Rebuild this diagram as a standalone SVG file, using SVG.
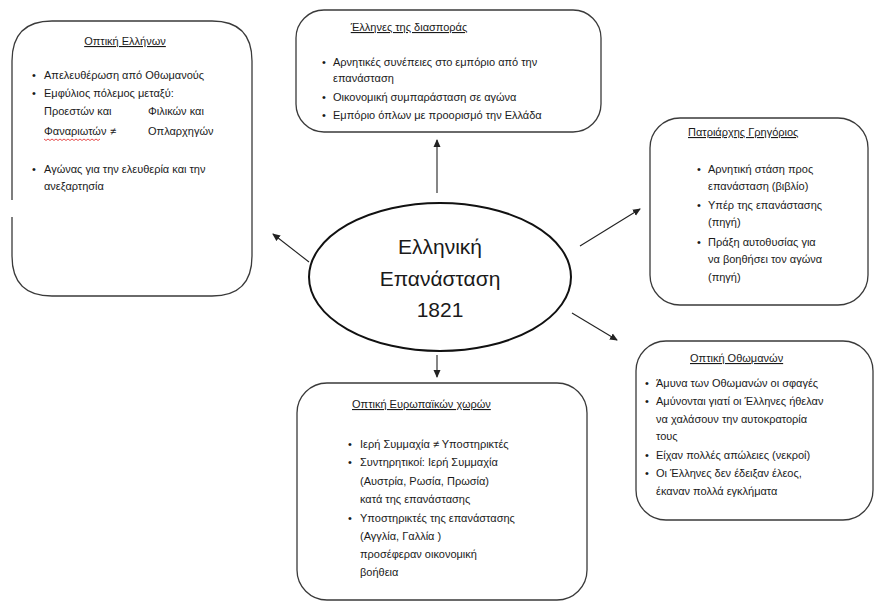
<svg xmlns="http://www.w3.org/2000/svg" width="877" height="608" viewBox="0 0 877 608">
<style>
.box{fill:#fff;stroke:#3a3a3a;stroke-width:1.3}
.t{font-family:"Liberation Sans","Noto Sans",Arial,sans-serif;font-size:11px;fill:#1a1a1a}
.u{text-decoration:underline}
.big{font-family:"Liberation Sans","Noto Sans",Arial,sans-serif;font-size:21px;fill:#1a1a1a;text-anchor:middle}
.c{stroke:#222;stroke-width:1.1;fill:none}
</style>
<defs>
<marker id="ah" markerWidth="8" markerHeight="8" refX="7" refY="4" orient="auto" markerUnits="userSpaceOnUse">
<path d="M0,0.5 L8,4 L0,7.5 Z" fill="#222"/>
</marker>
</defs>
<rect width="877" height="608" fill="#fff"/>

<g id="connectors">
<line class="c" x1="437" y1="193" x2="437" y2="140" marker-end="url(#ah)"/>
<line class="c" x1="580" y1="246" x2="640" y2="209" marker-end="url(#ah)"/>
<line class="c" x1="309" y1="262" x2="273" y2="234" marker-end="url(#ah)"/>
<line class="c" x1="572" y1="313" x2="617" y2="340" marker-end="url(#ah)"/>
<line class="c" x1="437" y1="355" x2="437" y2="377" marker-end="url(#ah)"/>
</g>

<g id="center">
<ellipse cx="440" cy="277" rx="131" ry="74" fill="#fff" stroke="#111" stroke-width="2"/>
<text class="big" x="440" y="254">Ελληνική</text>
<text class="big" x="440" y="286">Επανάσταση</text>
<text class="big" x="440" y="317">1821</text>
</g>

<g id="greeks">
<path class="box" d="M52,21 H212 Q252,21 252,61 V256 Q252,296 212,296 H52 Q12,296 12,256 V217 M12,200 V61 Q12,21 52,21"/>
<text class="t u" x="125" y="45" text-anchor="middle">Οπτική Ελλήνων</text>
<text class="t" x="32" y="79">•</text><text class="t" x="44" y="79">Απελευθέρωση από Οθωμανούς</text>
<text class="t" x="32" y="97">•</text><text class="t" x="44" y="97">Εμφύλιος πόλεμος μεταξύ:</text>
<text class="t" x="44" y="115">Προεστών και</text><text class="t" x="148" y="115">Φιλικών και</text>
<text class="t" x="44" y="135">Φαναριωτών</text><text class="t" x="110" y="135">≠</text><text class="t" x="148" y="135">Οπλαρχηγών</text>
<path d="M44,139 l2,1.5 l2,-1.5 l2,1.5 l2,-1.5 l2,1.5 l2,-1.5 l2,1.5 l2,-1.5 l2,1.5 l2,-1.5 l2,1.5 l2,-1.5 l2,1.5 l2,-1.5 l2,1.5 l2,-1.5 l2,1.5 l2,-1.5 l2,1.5 l2,-1.5 l2,1.5 l2,-1.5 l2,1.5 l2,-1.5 l2,1.5 l2,-1.5 l2,1.5 l2,-1.5" fill="none" stroke="#e02020" stroke-width="0.8"/>
<text class="t" x="32" y="173">•</text><text class="t" x="44" y="173">Αγώνας για την ελευθερία και την</text>
<text class="t" x="44" y="190">ανεξαρτησία</text>
</g>

<g id="diaspora">
<rect class="box" x="296" y="10" width="305" height="122" rx="28"/>
<text class="t u" x="409" y="31" text-anchor="middle">Έλληνες της διασποράς</text>
<text class="t" x="322" y="66">•</text><text class="t" x="333" y="66">Αρνητικές συνέπειες στο εμπόριο από την</text>
<text class="t" x="333" y="82">επανάσταση</text>
<text class="t" x="322" y="101">•</text><text class="t" x="333" y="101">Οικονομική συμπαράσταση σε αγώνα</text>
<text class="t" x="322" y="119">•</text><text class="t" x="333" y="119">Εμπόριο όπλων με προορισμό την Ελλάδα</text>
</g>

<g id="patriarch">
<rect class="box" x="650" y="118" width="218" height="187" rx="30"/>
<text class="t u" x="688" y="136">Πατριάρχης Γρηγόριος</text>
<text class="t" x="697" y="173">•</text><text class="t" x="708" y="173">Αρνητική στάση προς</text>
<text class="t" x="708" y="190">επανάσταση (βιβλίο)</text>
<text class="t" x="697" y="209">•</text><text class="t" x="708" y="209">Υπέρ της επανάστασης</text>
<text class="t" x="708" y="226">(πηγή)</text>
<text class="t" x="697" y="246">•</text><text class="t" x="708" y="246">Πράξη αυτοθυσίας για</text>
<text class="t" x="708" y="263">να βοηθήσει τον αγώνα</text>
<text class="t" x="708" y="281">(πηγή)</text>
</g>

<g id="ottomans">
<rect class="box" x="636" y="341" width="237" height="179" rx="30"/>
<text class="t u" x="690" y="362">Οπτική Οθωμανών</text>
<text class="t" x="645" y="387">•</text><text class="t" x="656" y="387">Άμυνα των Οθωμανών οι σφαγές</text>
<text class="t" x="645" y="405">•</text><text class="t" x="656" y="405">Αμύνονται γιατί οι Έλληνες ήθελαν</text>
<text class="t" x="656" y="423">να χαλάσουν την αυτοκρατορία</text>
<text class="t" x="656" y="440">τους</text>
<text class="t" x="645" y="459">•</text><text class="t" x="656" y="459">Είχαν πολλές απώλειες (νεκροί)</text>
<text class="t" x="645" y="477">•</text><text class="t" x="656" y="477">Οι Έλληνες δεν έδειξαν έλεος,</text>
<text class="t" x="656" y="495">έκαναν πολλά εγκλήματα</text>
</g>

<g id="europe">
<rect class="box" x="297" y="383" width="290" height="217" rx="30"/>
<text class="t u" x="352" y="408">Οπτική Ευρωπαϊκών χωρών</text>
<text class="t" x="348" y="448">•</text><text class="t" x="360" y="448">Ιερή Συμμαχία ≠ Υποστηρικτές</text>
<text class="t" x="348" y="466">•</text><text class="t" x="360" y="466">Συντηρητικοί: Ιερή Συμμαχία</text>
<text class="t" x="360" y="485">(Αυστρία, Ρωσία, Πρωσία)</text>
<text class="t" x="360" y="503">κατά της επανάστασης</text>
<text class="t" x="348" y="522">•</text><text class="t" x="360" y="522">Υποστηρικτές της επανάστασης</text>
<text class="t" x="360" y="540">(Αγγλία, Γαλλία )</text>
<text class="t" x="360" y="558">προσέφεραν οικονομική</text>
<text class="t" x="360" y="576">βοήθεια</text>
</g>
</svg>
